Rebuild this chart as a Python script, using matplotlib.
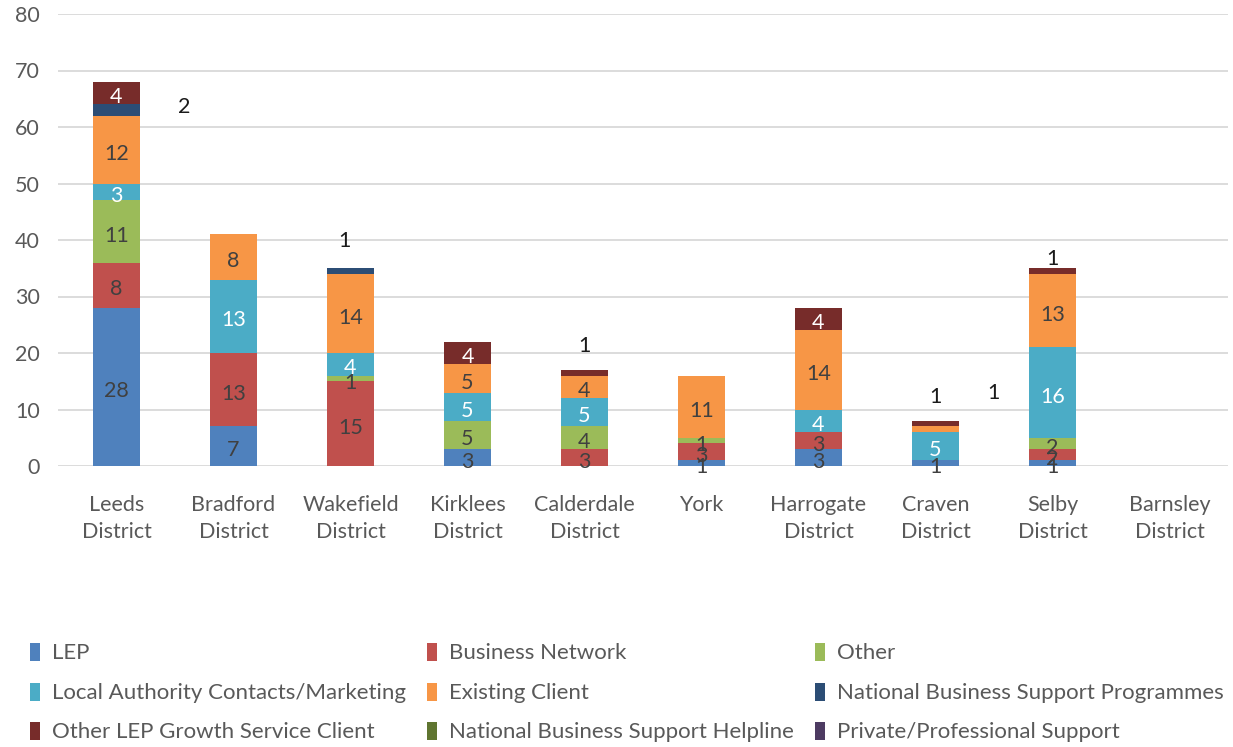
import matplotlib
matplotlib.use("Agg")
import matplotlib.pyplot as plt
from matplotlib.patches import Rectangle
import numpy as np

plt.rcParams['font.family'] = ['Lato', 'DejaVu Sans']

districts = ["Leeds\nDistrict", "Bradford\nDistrict", "Wakefield\nDistrict", "Kirklees\nDistrict",
             "Calderdale\nDistrict", "York", "Harrogate\nDistrict", "Craven\nDistrict",
             "Selby\nDistrict", "Barnsley\nDistrict"]

series_names = ["LEP", "Business Network", "Other", "Local Authority Contacts/Marketing",
                "Existing Client", "National Business Support Programmes",
                "Other LEP Growth Service Client", "National Business Support Helpline",
                "Private/Professional Support"]

lep = [28, 7, 0, 3, 0, 1, 3, 1, 1, 0]
business_network = [8, 13, 15, 0, 3, 3, 3, 0, 2, 0]
other = [11, 0, 1, 5, 4, 1, 0, 0, 2, 0]
local_authority = [3, 13, 4, 5, 5, 0, 4, 5, 16, 0]
existing_client = [12, 8, 14, 5, 4, 11, 14, 1, 13, 0]
nbs_programmes = [2, 0, 1, 0, 0, 0, 0, 0, 0, 0]
other_lep_growth = [4, 0, 0, 4, 1, 0, 4, 1, 1, 0]
nbs_helpline = [0, 0, 0, 0, 0, 0, 0, 0, 0, 0]
private_professional = [0, 0, 0, 0, 0, 0, 0, 0, 0, 0]

yticks = [0, 10, 20, 30, 40, 50, 60, 70, 80]

series_values = [lep, business_network, other, local_authority, existing_client,
                 nbs_programmes, other_lep_growth, nbs_helpline, private_professional]
colors = ["#4F81BD", "#C0504D", "#9BBB59", "#4BACC6", "#F79646",
          "#2C4D75", "#772C2A", "#5F7530", "#4D3B62"]
label_colors = ["#404040", "#404040", "#404040", "white", "#404040",
                "white", "white", "white", "white"]

# labels moved outside their (thin) segments: (series index, district index) -> offset in points
moved_labels = {
    (5, 0): (49, 2),
    (5, 2): (-4, 22),
    (6, 4): (0, 19),
    (6, 7): (0, 19),
    (4, 7): (42, 26),
    (6, 8): (0, 9),
}

fs = 15.5

fig = plt.figure(figsize=(12.33, 7.47), dpi=100)
ax = fig.add_axes([58 / 1233, 1 - 466 / 747, 1170 / 1233, 452 / 747])

x = np.arange(len(districts))
bottom = np.zeros(len(districts))
bar_w = 0.4
for si, (vals, col) in enumerate(zip(series_values, colors)):
    vals = np.array(vals, dtype=float)
    bars = ax.bar(x, vals, bar_w, bottom=bottom, color=col, zorder=3)
    for di, (b, v) in enumerate(zip(bars, vals)):
        if v <= 0:
            continue
        cx = b.get_x() + b.get_width() / 2
        cy = b.get_y() + b.get_height() / 2
        if (si, di) in moved_labels:
            dx, dy = moved_labels[(si, di)]
            ax.annotate(f"{int(v)}", (cx, cy), xytext=(dx, dy), textcoords="offset points",
                        ha="center", va="center", fontsize=fs, color="#1a1a1a", zorder=5)
        else:
            ax.annotate(f"{int(v)}", (cx, cy), xytext=(0, -3), textcoords="offset points",
                        ha="center", va="center", fontsize=fs, color=label_colors[si], zorder=5)
    bottom += vals

ax.set_xlim(-0.5, len(districts) - 0.5)
ax.set_ylim(0, 80)
ax.set_yticks(yticks)
ax.set_xticks(x)
ax.set_xticklabels(districts, fontsize=fs, color="#595959", linespacing=1.4)
ax.tick_params(axis="y", labelsize=fs, labelcolor="#595959", length=0, pad=13)
ax.tick_params(axis="x", length=0, pad=21)
ax.grid(axis="y", color="#D9D9D9", linewidth=1.3, zorder=0)
for s in ax.spines.values():
    s.set_visible(False)

# legend laid out in three rows of three entries
col_x = [30, 427, 815]
row_y = [652, 692, 731]
for i, (name, col) in enumerate(zip(series_names, colors)):
    r, c = divmod(i, 3)
    px, py = col_x[c], row_y[r]
    fig.patches.append(Rectangle((px / 1233, 1 - (py + 9) / 747), 10 / 1233, 18 / 747,
                                 transform=fig.transFigure, facecolor=col, edgecolor="none"))
    fig.text((px + 22) / 1233, 1 - (py + 1) / 747, name, fontsize=16, color="#595959",
             ha="left", va="center")

fig.savefig("out.png", dpi=100)
